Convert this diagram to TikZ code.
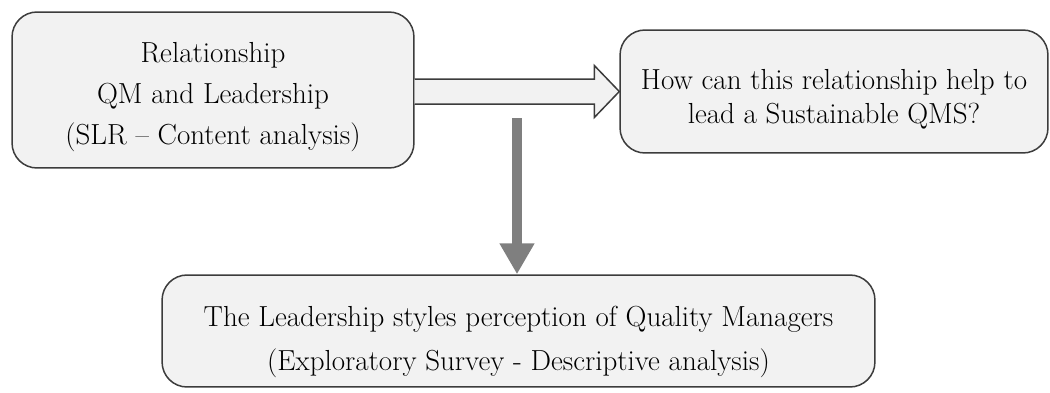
\documentclass[tikz,border=0pt]{standalone}
\usetikzlibrary{arrows.meta,calc}
\definecolor{boxfill}{HTML}{F2F2F2}
\definecolor{boxline}{HTML}{3C3C3C}
\definecolor{arrgray}{HTML}{7F7F7F}
\tikzset{
  box/.style={draw=boxline, fill=boxfill, line width=0.03cm, rounded corners=0.5cm, inner sep=0pt},
  boxtext/.style={align=center, inner sep=0pt, font=\fontsize{16.5}{20}\selectfont},
  hollow/.style={draw=boxline, fill=boxfill, line width=0.03cm, line join=miter},
  bigdown/.style={draw=arrgray, line width=0.2cm, -{Triangle[width=0.66cm,length=0.62cm]}}
}
\begin{document}
\begin{tikzpicture}[x=0.02cm,y=-0.02cm]
\useasboundingbox (0,0) rectangle (1050,392);
\node[box, minimum width=8.04cm, minimum height=3.12cm] (L) at (213,90) {};
\node[box, minimum width=8.56cm, minimum height=2.46cm] (R) at (834,91.5) {};
\node[box, minimum width=14.26cm, minimum height=2.24cm] (B) at (518.5,331) {};
\node[boxtext] (Lt) at (213,97)
  {Relationship\\[0.12cm]QM and Leadership\\[0.12cm](SLR -- Content analysis)};
\node[boxtext] (Rt) at (834,99)
  {How can this relationship help to\\[-0.02cm]lead a Sustainable QMS?};
\node[boxtext] (Bt) at (518.5,342)
  {The Leadership styles perception of Quality Managers\\[0.18cm](Exploratory Survey - Descriptive analysis)};
\coordinate (T) at (R.west);
\draw[hollow] (L.east |- {$(T)+(0,-12.5)$}) -- ($(T)+(-25,-12.5)$) -- ($(T)+(-25,-26)$)
  -- (T) -- ($(T)+(-25,26)$) -- ($(T)+(-25,12.5)$) -- (L.east |- {$(T)+(0,12.5)$});
\coordinate (S) at (517,118);
\draw[bigdown] (S) -- (S |- B.north);
\end{tikzpicture}
\end{document}
